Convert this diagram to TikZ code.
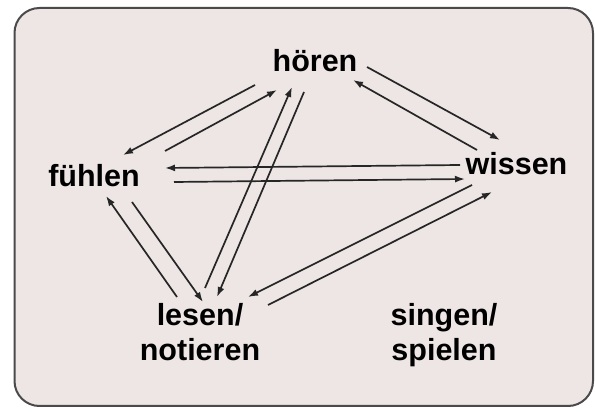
\documentclass[tikz,border=0pt]{standalone}
\usepackage{fontspec}
\setmainfont{Liberation Sans}
\usetikzlibrary{arrows.meta}
\definecolor{framecol}{HTML}{4A4A4A}
\definecolor{fillcol}{HTML}{EEE6E5}
\definecolor{edgecol}{HTML}{262626}
\begin{document}
\begin{tikzpicture}[>={Latex[length=10bp,width=7bp]},line join=bevel,
  word/.style={font=\fontsize{30.5bp}{35bp}\selectfont\bfseries,inner sep=0pt,align=center},]
  \useasboundingbox (0bp,0bp) rectangle (595bp,412bp);
  % Frame
  \draw [framecol,fill=fillcol,line width=2bp,rounded corners=25bp] (14.5bp,6bp) rectangle (593bp,404bp);
  % Node: hoeren
  \node [word,anchor=base] (hoeren) at (315bp,340bp) {hören};
  % Node: fuehlen
  \node [word,anchor=base] (fuehlen) at (94bp,225bp) {fühlen};
  % Node: wissen
  \node [word,anchor=base] (wissen) at (516.5bp,237bp) {wissen};
  % Node: lesen
  \node [word] (lesen) at (200bp,79.5bp) {lesen/\\notieren};
  % Node: singen
  \node [word] (singen) at (444bp,76.5bp) {singen/\\spielen};
%%
  \pgfsetlinewidth{1.7bp}
  \pgfsetcolor{edgecol}
  % Edge: hoeren -> fuehlen
  \draw [->] ([shift={(-60bp,-13bp)}]hoeren.base) -- ([shift={(29bp,32bp)}]fuehlen.base);
  % Edge: fuehlen -> hoeren
  \draw [->] ([shift={(71bp,36bp)}]fuehlen.base) -- ([shift={(-38bp,-18bp)}]hoeren.base);
  % Edge: hoeren -> wissen
  \draw [->] ([shift={(52bp,5bp)}]hoeren.base) -- ([shift={(-16.5bp,35bp)}]wissen.base);
  % Edge: wissen -> hoeren
  \draw [->] ([shift={(-39.5bp,25bp)}]wissen.base) -- ([shift={(38bp,-8bp)}]hoeren.base);
  % Edge: wissen -> fuehlen
  \draw [->] ([shift={(-56.5bp,10bp)}]wissen.base) -- ([shift={(71bp,19bp)}]fuehlen.base);
  % Edge: fuehlen -> wissen
  \draw [->] ([shift={(80bp,5bp)}]fuehlen.base) -- ([shift={(-51.5bp,-4bp)}]wissen.base);
  % Edge: lesen -> fuehlen
  \draw [->] ([shift={(-23bp,35.5bp)}]lesen.center) -- ([shift={(12bp,-9bp)}]fuehlen.base);
  % Edge: fuehlen -> lesen
  \draw [->] ([shift={(38bp,-15bp)}]fuehlen.base) -- ([shift={(3bp,30.5bp)}]lesen.center);
  % Edge: lesen -> hoeren
  \draw [->] ([shift={(5bp,44.5bp)}]lesen.center) -- ([shift={(-23bp,-15bp)}]hoeren.base);
  % Edge: hoeren -> lesen
  \draw [->] ([shift={(-11bp,-20bp)}]hoeren.base) -- ([shift={(17bp,35.5bp)}]lesen.center);
  % Edge: wissen -> lesen
  \draw [->] ([shift={(-44.5bp,-10bp)}]wissen.base) -- ([shift={(48bp,35.5bp)}]lesen.center);
  % Edge: lesen -> wissen
  \draw [->] ([shift={(68bp,27.5bp)}]lesen.center) -- ([shift={(-24.5bp,-17bp)}]wissen.base);
%
\end{tikzpicture}
\end{document}
